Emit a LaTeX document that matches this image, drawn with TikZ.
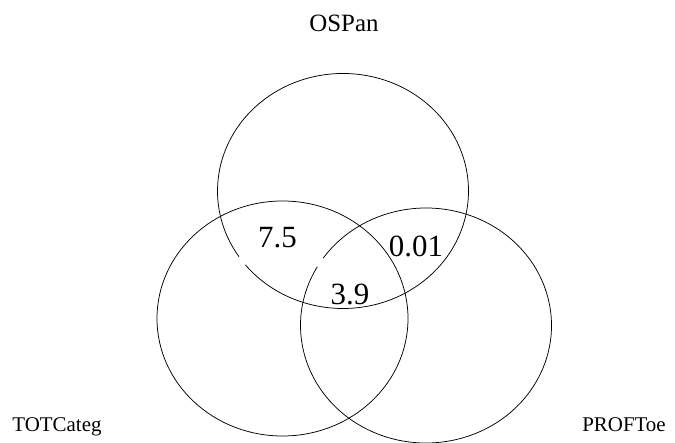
\documentclass[tikz,border=0pt]{standalone}
\usepackage{fontspec}
\setmainfont{Liberation Serif}
\usepackage{tikz}
\tikzset{setname/.style={anchor=base,inner sep=0pt,font=\fontsize{21}{25}\selectfont},
 topname/.style={setname,font=\fontsize{25}{30}\selectfont},
 areanum/.style={anchor=base,inner sep=0pt,font=\fontsize{31}{37}\selectfont},
 venn/.style={x radius=125.5bp,y radius=117.5bp},
 setline/.style={draw=black,line width=0.75bp},
 }

\begin{document}
\begin{tikzpicture}[x=1bp,y=1bp]
        \useasboundingbox (0,0) rectangle (675,443);
        \coordinate (top) at (343,252);
        \coordinate (left) at (282.5,124.5);
        \coordinate (right) at (426,117.5);
        \draw[setline] ([shift={(219:125.5bp and 117.5bp)}]top) arc[venn, start angle=219, end angle=574];
        \draw[setline] (left) ellipse[venn];
        \draw[setline] ([shift={(150:125.5bp and 117.5bp)}]right) arc[venn, start angle=150, end angle=505];
        \node[topname] (ospan) at (344,411.3) {OSPan};
        \node[setname] (totcateg) at (57,11) {TOTCateg};
        \node[setname] (proftoe) at (624,11) {PROFToe};
        \node[areanum] (n75) at (277.5,195) {7.5};
        \node[areanum] (n001) at (416,186.3) {0.01};
        \node[areanum] (n39) at (350,138) {3.9};
    \end{tikzpicture}
\end{document}
